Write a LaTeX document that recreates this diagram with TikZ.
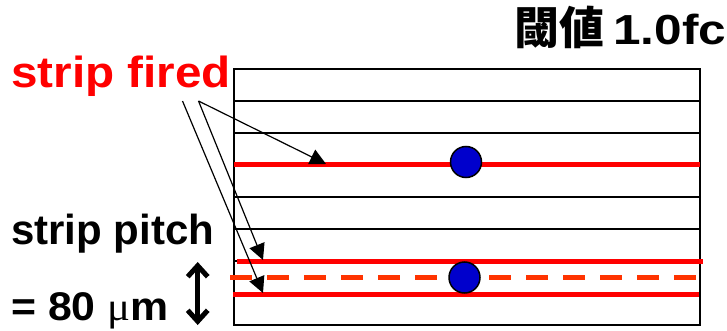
\documentclass[tikz,border=0pt]{standalone}
\usepackage{fontspec}
\setmainfont{Liberation Sans}
\newfontfamily\cjk{Noto Sans CJK JP Bold}
\newfontfamily\mufont{Liberation Serif}
\usetikzlibrary{arrows.meta}
\definecolor{hitred}{RGB}{255,0,0}
\definecolor{midorange}{RGB}{255,51,0}
\definecolor{dotblue}{RGB}{0,0,204}
\tikzset{
  gridline/.style={black, line width=1.8pt},
  firedline/.style={hitred, line width=5pt},
  midline/.style={midorange, line width=4.5pt, dash pattern=on 21.5pt off 15.5pt},
  hit/.style={circle, draw=black, line width=1.5pt, fill=dotblue, minimum size=31pt, inner sep=0pt},
  pointer/.style={black, line width=1.2pt, -{Triangle[length=16pt,width=16pt]}},
  pitcharrow/.style={black, line width=5pt, {Straight Barb[length=11pt,width=20pt]}-{Straight Barb[length=11pt,width=20pt]}},
  label/.style={inner sep=0pt, font=\bfseries},
}
\begin{document}
\begin{tikzpicture}[x=1pt,y=-1pt]
\useasboundingbox (0,0) rectangle (727,331);
% grid
\foreach \yy in {101,133,165,197,229,261,293}
  \draw[gridline] (234,\yy) -- (700,\yy);
\draw[gridline] (234,69) rectangle (700,325);
% fired strips
\draw[firedline] (234,164.5) -- (700,164.5);
\draw[firedline] (236.5,261) -- (702.5,261);
\draw[firedline] (233,294) -- (699,294);
\draw[midline] (230,277.5) -- (698,277.5);
% hits
\node[hit] (h1) at (466,162) {};
\node[hit] (h2) at (464.5,277.5) {};
% labels
\node[label, text=hitred, anchor=base west, font=\bfseries\fontsize{43.5}{43.5}\selectfont] (fired) at (11,88) {\scalebox{1.095}[1]{strip fired}};
\node[label, anchor=base west, font=\bfseries\fontsize{42}{42}\selectfont] (pitch) at (11,244) {strip pitch};
\node[label, anchor=base west, font=\bfseries\fontsize{40}{40}\selectfont] (value) at (11,320.5) {\scalebox{1.07}[1]{= 80 {\mufont\mdseries μ}m}};
\node[label, anchor=base east, font=\bfseries\fontsize{42}{42}\selectfont] (thr) at (726.5,44.5) {{\cjk\fontsize{45}{45}\selectfont 閾値}\hspace{9pt}\scalebox{1.18}[1]{1.0fc}};
% arrow origins and targets
\coordinate (o1) at (198.5,101);
\coordinate (o2) at (182.5,101);
\coordinate (t1) at (326,164);
\coordinate (t2) at (263,260);
\coordinate (t3) at (263,293);
\draw[pointer] (o1) -- (t1);
\draw[pointer] (o1) -- (t2);
\draw[pointer] (o2) -- (t3);
% pitch arrow
\coordinate (pa) at (197.7,262);
\coordinate (pb) at (197.7,325);
\draw[pitcharrow] (pa) -- (pb);
\end{tikzpicture}
\end{document}
